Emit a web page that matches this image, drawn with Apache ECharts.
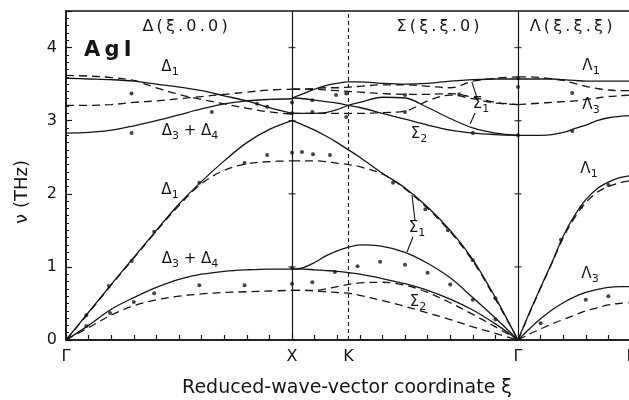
<!DOCTYPE html>
<html><head><meta charset="utf-8">
<script src="https://cdn.jsdelivr.net/npm/echarts@6/dist/echarts.min.js"></script>
<style>html,body{margin:0;padding:0;background:#fff}#c{width:629px;height:400px}</style>
</head><body><div id="c"></div>
<script>
// ---- path coordinates (Γ=0, X=1, K=1.25, Γ=2, L=2.5) ----
const pointLabels = {0:'Γ', 1:'X', 1.25:'K', 2:'Γ', 2.5:'L'};
const labelPositions = [0, 1, 1.25, 2, 2.5];
const yTicks = [0, 1, 2, 3, 4];

const xDelta  = [0, 0.1, 0.2, 0.3, 0.4, 0.5, 0.6, 0.7, 0.8, 0.9, 1.0];
const xSigma  = [1.0, 1.05, 1.1, 1.15, 1.2, 1.25, 1.3, 1.4, 1.5, 1.6, 1.7, 1.8, 1.9, 2.0];
const xLambda = [2.0, 2.05, 2.1, 2.15, 2.2, 2.25, 2.3, 2.35, 2.4, 2.45, 2.5];

// ---- Δ(ξ,0,0) branches ----
const deltaLA_solid  = [0, 0.38, 0.76, 1.13, 1.5, 1.86, 2.17, 2.45, 2.7, 2.88, 3.0];
const deltaLA_dash   = [0, 0.37, 0.75, 1.12, 1.49, 1.84, 2.14, 2.32, 2.41, 2.44, 2.45];
const deltaTA_solid  = [0, 0.2, 0.42, 0.58, 0.72, 0.83, 0.9, 0.94, 0.96, 0.97, 0.97];
const deltaTA_dash   = [0, 0.17, 0.34, 0.47, 0.55, 0.6, 0.63, 0.65, 0.66, 0.67, 0.68];
const deltaO1_solid  = [3.58, 3.57, 3.56, 3.54, 3.5, 3.46, 3.41, 3.34, 3.27, 3.18, 3.1];
const deltaO1_dash   = [3.62, 3.61, 3.59, 3.55, 3.45, 3.36, 3.29, 3.23, 3.17, 3.12, 3.09];
const deltaO2_solid  = [2.83, 2.84, 2.87, 2.93, 3.0, 3.08, 3.16, 3.23, 3.27, 3.29, 3.3];
const deltaO2_dash   = [3.21, 3.21, 3.22, 3.25, 3.27, 3.3, 3.33, 3.36, 3.39, 3.42, 3.43];

// ---- Σ(ξ,ξ,0) branches ----
const sigmaLA_solid  = [3.0, 2.94, 2.87, 2.79, 2.7, 2.6, 2.5, 2.28, 2.08, 1.82, 1.5, 1.1, 0.58, 0];
const sigmaLA_dash   = [2.45, 2.45, 2.45, 2.44, 2.42, 2.4, 2.37, 2.27, 2.07, 1.8, 1.48, 1.08, 0.56, 0];
const sigmaT1_solid  = [0.97, 0.99, 1.06, 1.15, 1.22, 1.27, 1.3, 1.28, 1.2, 1.05, 0.85, 0.58, 0.3, 0];
const sigmaT2_solid  = [0.97, 0.97, 0.96, 0.95, 0.94, 0.92, 0.9, 0.84, 0.77, 0.68, 0.56, 0.41, 0.22, 0];
const sigmaT1_dash   = [0.68, 0.68, 0.68, 0.7, 0.73, 0.76, 0.78, 0.79, 0.75, 0.65, 0.51, 0.35, 0.18, 0];
const sigmaT2_dash   = [0.68, 0.68, 0.67, 0.66, 0.65, 0.64, 0.61, 0.54, 0.46, 0.37, 0.28, 0.18, 0.09, 0];
const sigmaO1_solid  = [3.31, 3.37, 3.43, 3.48, 3.51, 3.53, 3.53, 3.51, 3.5, 3.51, 3.54, 3.56, 3.57, 3.57];
const sigmaO2_solid  = [3.31, 3.3, 3.28, 3.26, 3.24, 3.21, 3.18, 3.1, 3.02, 2.94, 2.87, 2.83, 2.81, 2.8];
const sigmaO3_solid  = [3.1, 3.1, 3.1, 3.11, 3.15, 3.21, 3.25, 3.32, 3.31, 3.18, 3.03, 2.9, 2.83, 2.8];
const sigmaO1_dash   = [3.43, 3.43, 3.44, 3.45, 3.45, 3.46, 3.47, 3.49, 3.49, 3.47, 3.45, 3.54, 3.58, 3.6];
const sigmaO2_dash   = [3.43, 3.43, 3.43, 3.42, 3.41, 3.4, 3.39, 3.37, 3.36, 3.36, 3.37, 3.32, 3.25, 3.22];
const sigmaO3_dash   = [3.1, 3.1, 3.1, 3.1, 3.1, 3.1, 3.1, 3.11, 3.13, 3.27, 3.35, 3.3, 3.24, 3.22];

// ---- Λ(ξ,ξ,ξ) branches ----
const lambdaLA_solid = [0, 0.37, 0.72, 1.06, 1.42, 1.7, 1.92, 2.07, 2.16, 2.22, 2.25];
const lambdaLA_dash  = [0, 0.36, 0.71, 1.05, 1.4, 1.67, 1.88, 2.02, 2.1, 2.15, 2.18];
const lambdaTA_solid = [0, 0.15, 0.29, 0.41, 0.51, 0.59, 0.65, 0.69, 0.72, 0.73, 0.73];
const lambdaTA_dash  = [0, 0.08, 0.15, 0.22, 0.28, 0.34, 0.4, 0.44, 0.48, 0.5, 0.51];
const lambdaO1_solid = [3.57, 3.57, 3.57, 3.57, 3.56, 3.55, 3.54, 3.54, 3.54, 3.54, 3.54];
const lambdaO1_dash  = [3.6, 3.6, 3.59, 3.57, 3.55, 3.51, 3.47, 3.44, 3.42, 3.41, 3.41];
const lambdaO3_solid = [2.8, 2.8, 2.8, 2.81, 2.84, 2.89, 2.94, 3.0, 3.04, 3.06, 3.07];
const lambdaO3_dash  = [3.22, 3.23, 3.24, 3.25, 3.26, 3.27, 3.29, 3.31, 3.33, 3.34, 3.35];

// ---- measured points (x, ν) ----
const measuredX = [0.09, 0.19, 0.29, 0.39, 0.59, 0.79, 0.89, 1.0, 1.044, 1.093, 1.168, 1.447, 1.59, 1.69, 1.8, 1.9,
  0.09, 0.195, 0.3, 0.39, 0.59, 0.79, 1.0, 1.0, 1.09, 1.19, 1.29, 1.39, 1.5, 1.6, 1.7, 1.8, 1.9,
  2.1, 2.3, 2.4, 2.19, 2.28, 2.4,
  0.29, 0.29, 0.645, 0.845, 0.89, 1.0, 1.0, 1.09, 1.09, 1.195, 1.24, 1.24, 1.5, 1.5, 1.74, 1.8, 2.0, 2.0, 2.0, 2.24, 2.24];
const measuredY = [0.34, 0.74, 1.08, 1.48, 2.15, 2.42, 2.53, 2.56, 2.57, 2.54, 2.53, 2.15, 1.79, 1.5, 1.09, 0.57,
  0.19, 0.37, 0.52, 0.64, 0.75, 0.75, 0.77, 0.98, 0.79, 0.93, 1.01, 1.07, 1.03, 0.92, 0.76, 0.55, 0.28,
  0.23, 0.55, 0.6, 1.37, 1.82, 2.12,
  3.37, 2.83, 3.12, 3.23, 3.19, 3.25, 3.1, 3.28, 3.12, 3.35, 3.37, 3.05, 3.35, 3.12, 3.36, 2.83, 3.58, 3.46, 2.8, 3.38, 2.86];

// ---- small cross-marks on the X and Γ verticals ----
const vlineMarkX = [1, 1, 1, 1, 2, 2, 2, 2];
const vlineMarkY = [1, 2, 3, 4, 1, 2, 3, 4];

// ---- leader lines for Σ1 labels ----
const leaderUpperA = [[1.796, 3.53], [1.819, 3.31]];
const leaderUpperB = [[1.81, 3.105], [1.788, 2.955]];
const leaderLowerA = [[1.531, 1.984], [1.544, 1.642]];
const leaderLowerB = [[1.535, 1.409], [1.509, 1.204]];

const pair = (xs, ys) => xs.map((x, i) => [x, ys[i]]);
const INK = '#151515';
const FONT = '"DejaVu Sans", sans-serif';
const TS = '\u2009'; // thin space for wide letter spacing

const curves = [
  [xDelta, deltaLA_solid, false], [xDelta, deltaLA_dash, true],
  [xDelta, deltaTA_solid, false], [xDelta, deltaTA_dash, true],
  [xDelta, deltaO1_solid, false], [xDelta, deltaO1_dash, true],
  [xDelta, deltaO2_solid, false], [xDelta, deltaO2_dash, true],
  [xSigma, sigmaLA_solid, false], [xSigma, sigmaLA_dash, true],
  [xSigma, sigmaT1_solid, false], [xSigma, sigmaT2_solid, false],
  [xSigma, sigmaT1_dash, true], [xSigma, sigmaT2_dash, true],
  [xSigma, sigmaO1_solid, false], [xSigma, sigmaO2_solid, false], [xSigma, sigmaO3_solid, false],
  [xSigma, sigmaO1_dash, true], [xSigma, sigmaO2_dash, true], [xSigma, sigmaO3_dash, true],
  [xLambda, lambdaLA_solid, false], [xLambda, lambdaLA_dash, true],
  [xLambda, lambdaTA_solid, false], [xLambda, lambdaTA_dash, true],
  [xLambda, lambdaO1_solid, false], [xLambda, lambdaO1_dash, true],
  [xLambda, lambdaO3_solid, false], [xLambda, lambdaO3_dash, true]
];

const series = curves.map(([xs, ys, dashed]) => ({
  type: 'line', data: pair(xs, ys), smooth: 0.35, symbol: 'none', silent: true,
  lineStyle: { color: INK, width: 1.3, type: dashed ? [8, 5] : 'solid' }
}));

[leaderUpperA, leaderUpperB, leaderLowerA, leaderLowerB].forEach(d => series.push({
  type: 'line', data: d, symbol: 'none', silent: true, lineStyle: { color: INK, width: 1.1 }
}));

series.push({
  type: 'scatter', data: pair(measuredX, measuredY), symbol: 'circle', symbolSize: 4,
  itemStyle: { color: INK }, silent: true
});
series.push({
  type: 'scatter', data: pair(vlineMarkX, vlineMarkY), symbol: 'rect', symbolSize: [7, 1.3],
  itemStyle: { color: INK }, silent: true,
  markLine: {
    silent: true, symbol: 'none', label: { show: false },
    data: [
      { xAxis: 1, lineStyle: { color: INK, width: 1.2, type: 'solid' } },
      { xAxis: 2, lineStyle: { color: INK, width: 1.2, type: 'solid' } },
      { xAxis: 1.25, lineStyle: { color: INK, width: 1.1, type: [4, 3] } }
    ]
  }
});

// text helpers
const measureCtx = document.createElement('canvas').getContext('2d');
const txt = (t, x, y, font, align) => ({
  type: 'text', x, y, silent: true,
  style: { text: t, font, fill: INK, align: align || 'center', verticalAlign: 'middle' }
});
// label with subscripts: tokens = [[text, isSub], ...], centred at cx, main glyph centre at cy
function subLabel(tokens, cx, cy) {
  const mainFont = '15px ' + FONT, subFont = '11px ' + FONT;
  const widths = tokens.map(([t, s]) => { measureCtx.font = s ? subFont : mainFont; return measureCtx.measureText(t).width; });
  const total = widths.reduce((a, b) => a + b, 0);
  let x = cx - total / 2;
  return tokens.map(([t, s], i) => {
    const el = txt(t, x, s ? cy + 5 : cy, s ? subFont : mainFont, 'left');
    x += widths[i];
    return el;
  });
}
const spaced = s => s.split('').join(TS);

const graphics = [
  txt(spaced('Δ(ξ.0.0)'), 185, 27, '16px ' + FONT),
  txt(spaced('Σ(ξ.ξ.0)'), 438, 27, '16px ' + FONT),
  txt(spaced('Λ(ξ.ξ.ξ)'), 571, 27, '16px ' + FONT),
  txt(spaced('AgI'), 84, 51, 'bold 21px ' + FONT, 'left'),
  txt('Reduced-wave-vector coordinate ξ', 347, 388, '19px ' + FONT),
  Object.assign(txt('ν (THz)', 22, 192, '18px ' + FONT), { rotation: Math.PI / 2 })
].concat(
  subLabel([['Δ', 0], ['1', 1]], 170, 67),
  subLabel([['Δ', 0], ['3', 1], [' + ', 0], ['Δ', 0], ['4', 1]], 190, 131),
  subLabel([['Δ', 0], ['1', 1]], 170, 190),
  subLabel([['Δ', 0], ['3', 1], [' + ', 0], ['Δ', 0], ['4', 1]], 190, 259),
  subLabel([['Σ', 0], ['1', 1]], 481, 104),
  subLabel([['Σ', 0], ['2', 1]], 419, 134),
  subLabel([['Σ', 0], ['1', 1]], 417, 228),
  subLabel([['Σ', 0], ['2', 1]], 418, 302),
  subLabel([['Λ', 0], ['1', 1]], 591, 66),
  subLabel([['Λ', 0], ['3', 1]], 591, 105),
  subLabel([['Λ', 0], ['1', 1]], 589, 169),
  subLabel([['Λ', 0], ['3', 1]], 590, 274)
);

const chart = echarts.init(document.getElementById('c'), null, { renderer: 'canvas' });
chart.setOption({
  backgroundColor: '#fff',
  animation: false,
  grid: { left: 66, top: 11, width: 565, height: 329, outerBoundsMode: 'none', containLabel: false,
          show: true, borderColor: INK, borderWidth: 1.5, backgroundColor: 'transparent' },
  xAxis: {
    type: 'value', min: 0, max: 2.5, interval: 0.1,
    axisLine: { show: true, onZero: false, lineStyle: { color: INK, width: 1.5 } },
    axisTick: { show: true, inside: true, length: 5, lineStyle: { color: INK, width: 1.2 } },
    splitLine: { show: false },
    axisLabel: {
      customValues: labelPositions, formatter: v => pointLabels[Math.round(v * 100) / 100] || '',
      color: INK, fontSize: 16, fontFamily: FONT, margin: 9, hideOverlap: false, showMaxLabel: true, showMinLabel: true
    }
  },
  yAxis: {
    type: 'value', min: 0, max: 4.5, interval: 1,
    axisLine: { show: true, lineStyle: { color: INK, width: 1.5 } },
    axisTick: { show: true, inside: true, length: 6, lineStyle: { color: INK, width: 1.2 } },
    minorTick: { show: true, splitNumber: 10, length: 3, lineStyle: { color: INK, width: 1 } },
    splitLine: { show: false },
    axisLabel: {
      formatter: v => (yTicks.indexOf(v) >= 0 ? String(v) : ''),
      color: INK, fontSize: 16, fontFamily: FONT, margin: 9
    }
  },
  series,
  graphic: graphics
});
</script></body></html>
